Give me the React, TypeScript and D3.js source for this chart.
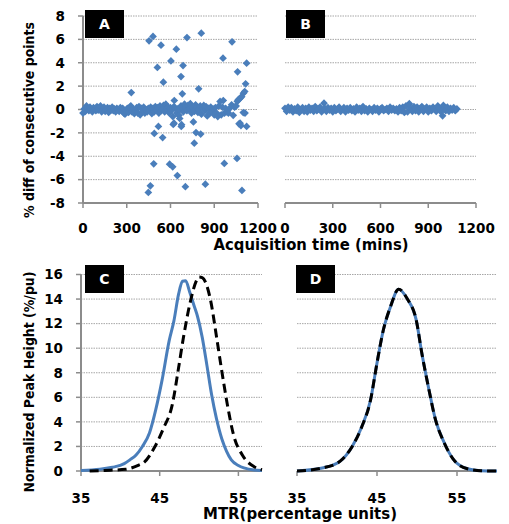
import React, { useRef, useEffect } from 'react';
import * as d3 from 'd3';

// ---- data ----

// panel A: main band of the % differences, [time (mins), % diff]
const aBand: [number, number][] = [
  [0, -0.3], [8, 0.05], [16, -0.15], [24, 0.3], [32, 0.1], [40, -0.1], [48, 0.2], [56, 0.0],
  [64, -0.2], [72, 0.15], [80, 0.05], [88, -0.1], [96, 0.25], [104, -0.05], [112, 0.1], [120, 0.3],
  [128, -0.2], [136, 0.05], [144, 0.2], [152, -0.15], [160, 0.0], [168, 0.15], [176, -0.25], [184, 0.1],
  [192, -0.05], [200, 0.2], [208, -0.1], [216, 0.05], [224, -0.2], [232, 0.1], [240, 0.0], [248, -0.15],
  [256, 0.15], [264, -0.05], [272, 0.1], [280, -0.3], [288, -0.4], [296, -0.1], [304, 0.1], [312, -0.25],
  [320, 0.2], [328, 0.3], [336, -0.2], [344, 0.05], [352, -0.35], [360, -0.1], [368, 0.15], [376, -0.3],
  [384, 0.25], [392, -0.45], [400, 0.1], [408, -0.15], [416, 0.2], [424, -0.3], [432, 0.0], [440, -0.2],
  [448, 0.1], [456, -0.1], [464, 0.2], [472, -0.35], [480, 0.1], [488, -0.2], [496, 0.25], [504, -0.05],
  [512, 0.15], [520, -0.3], [528, 0.3], [536, -0.1], [544, 0.05], [552, 0.35], [560, -0.2], [568, 0.45],
  [576, 0.1], [584, 0.2], [592, -0.3], [600, 0.15], [608, -0.05], [616, -0.6], [624, 0.25], [632, 0.1],
  [642, -0.3], [650, 0.05], [658, -0.5], [665, 0.0], [672, 0.3], [680, 0.15], [688, -0.2], [696, 0.45],
  [704, 0.2], [712, -0.1], [720, 0.35], [728, 0.05], [736, 0.5], [744, -0.3], [750, 0.25], [757, 0.1],
  [764, -0.15], [772, 0.4], [780, 0.2], [788, -0.25], [796, 0.0], [804, 0.3], [812, -0.4], [820, 0.15],
  [828, 0.35], [836, -0.1], [844, 0.25], [852, -0.55], [860, 0.1], [868, -0.3], [876, 0.2], [884, -0.2],
  [892, 0.05], [900, -0.45], [908, 0.15], [916, -0.3], [924, -0.6], [932, 0.3], [940, 0.69], [948, -0.45],
  [956, 0.2], [962, 0.77], [970, -0.3], [978, 0.1], [986, -0.2], [997, -0.3], [1008, 0.12], [1019, 0.4],
  [1030, -0.5], [1040, 0.2], [1050, 0.3], [1058, 0.7], [1065, 0.83], [1072, 0.9], [1080, 1.0], [1088, 1.1],
  [1100, 1.4], [1111, -0.3],
];

// panel A: scattered large jumps
const aOutliers: [number, number][] = [
  [331, 1.45], [453, 5.88], [480, 6.25], [535, 5.5], [510, 3.6], [551, 2.34], [640, 5.16], [603, 4.16],
  [713, 6.16], [686, 3.76], [672, 2.82], [681, 1.34], [811, 6.53], [793, 1.77], [960, 4.39], [1022, 5.79],
  [1060, 3.22], [1122, 3.96], [1115, 2.2], [1109, 1.54], [626, 0.77], [517, -1.45], [489, -2.05],
  [546, -2.4], [485, -4.65], [594, -4.68], [615, -4.9], [647, -5.65], [462, -6.53], [448, -7.1],
  [702, -6.6], [839, -6.39], [969, -4.62], [1056, -4.19], [1090, -6.93], [619, -1.28], [674, -1.45],
  [663, -0.77], [763, -2.88], [757, -1.06], [775, -1.97], [807, -2.1], [1070, -1.23], [1083, -1.37],
  [1122, -1.45], [1099, -0.26], [624, -1.17], [676, -1.3], [1077, -1.17],
];

// panel B
const bPoints: [number, number][] = [
  [0, 0.1], [10, -0.15], [20, 0.2], [30, -0.05], [40, 0.15], [50, -0.2], [60, 0.05], [70, -0.1],
  [80, 0.2], [90, -0.25], [100, 0.0], [110, 0.15], [120, -0.15], [130, 0.1], [140, -0.2], [150, 0.2],
  [160, -0.05], [170, 0.1], [180, -0.15], [190, 0.25], [200, -0.1], [210, 0.05], [220, 0.2], [230, -0.2],
  [245, 0.54], [250, 0.1], [260, -0.15], [270, 0.15], [280, -0.05], [290, 0.1], [300, -0.2], [310, 0.15],
  [320, -0.1], [330, 0.05], [340, 0.2], [350, -0.15], [360, 0.0], [370, 0.15], [380, -0.2], [390, 0.1],
  [400, -0.05], [410, 0.15], [420, -0.1], [430, 0.05], [440, -0.2], [450, 0.2], [460, -0.05], [470, 0.1],
  [480, -0.15], [490, 0.25], [500, -0.1], [510, 0.05], [520, -0.2], [530, 0.1], [540, 0.0], [550, -0.15],
  [560, 0.15], [570, -0.05], [580, 0.1], [590, -0.2], [600, 0.05], [610, 0.15], [620, -0.1], [630, 0.0],
  [640, 0.1], [650, -0.15], [660, 0.2], [670, -0.05], [680, 0.1], [690, -0.1], [700, 0.05], [710, -0.2],
  [720, 0.15], [730, -0.1], [740, 0.2], [750, -0.25], [760, 0.3], [770, -0.2], [781, 0.5], [790, 0.1],
  [800, -0.15], [810, 0.25], [820, -0.1], [830, 0.2], [840, -0.2], [850, 0.1], [860, 0.25], [870, -0.15],
  [880, 0.05], [890, 0.2], [900, -0.2], [910, 0.1], [920, -0.1], [930, 0.2], [940, 0.05], [950, -0.15],
  [960, 0.3], [970, 0.1], [980, -0.2], [990, -0.54], [995, 0.35], [1000, 0.1], [1010, -0.1], [1020, 0.2],
  [1030, -0.15], [1040, 0.1], [1050, -0.05], [1060, 0.15], [1070, -0.1], [1080, 0.05],
];

// panel C: MTR histograms (solid blue, dashed black)
const cSolid: [number, number][] = [
  [35, 0.05], [37.4, 0.15], [39, 0.3], [40.5, 0.6], [41.2, 0.9], [42.0, 1.3], [42.8, 2.0], [43.7, 3.1],
  [44.5, 5.0], [45.3, 7.4], [46.2, 10.6], [46.8, 12.2], [47.4, 14.4], [47.9, 15.45], [48.3, 15.5],
  [48.8, 14.6], [49.4, 13.4], [49.8, 12.6], [50.4, 10.9], [51.0, 8.6], [51.6, 6.2], [52.2, 4.3],
  [52.9, 2.6], [53.5, 1.6], [54.1, 0.9], [55.0, 0.45], [55.7, 0.25], [57.0, 0.08], [58, 0.05],
];
const cDashed: [number, number][] = [
  [36.1, 0], [38, 0.05], [40.7, 0.14], [42.4, 0.5], [42.9, 0.65], [44.4, 2.0], [45.5, 3.5], [46.6, 5.4],
  [47.4, 8.4], [48.0, 10.8], [48.9, 13.8], [49.6, 15.4], [50.0, 15.8], [50.4, 15.75], [51.4, 14.1],
  [52.3, 10.6], [52.9, 8.1], [53.6, 5.4], [54.4, 2.9], [55.5, 1.3], [57.0, 0.35], [58, 0.1],
];

// panel D: the two histograms coincide
const dSolid: [number, number][] = [
  [35, 0], [38.3, 0.26], [40.4, 0.8], [41.9, 2.0], [43.1, 3.6], [44.2, 5.8], [45.0, 8.8], [45.8, 11.5],
  [46.7, 13.4], [47.7, 14.8], [48.8, 14.0], [49.9, 12.3], [50.6, 9.6], [51.5, 6.6], [52.3, 4.2],
  [53.4, 2.3], [54.6, 0.9], [56.3, 0.18], [58, 0.02], [60, 0],
];
const dDashed: [number, number][] = [
  [35, 0], [38.3, 0.26], [40.4, 0.8], [41.9, 2.0], [43.1, 3.6], [44.2, 5.8], [45.0, 8.8], [45.8, 11.5],
  [46.7, 13.4], [47.7, 14.8], [48.8, 14.0], [49.9, 12.3], [50.6, 9.6], [51.5, 6.6], [52.3, 4.2],
  [53.4, 2.3], [54.6, 0.9], [56.3, 0.18], [58, 0.02], [60, 0],
];

const timeTicks = [0, 300, 600, 900, 1200];
const diffTicks = [-8, -6, -4, -2, 0, 2, 4, 6, 8];
const mtrTicks = [35, 45, 55];
const heightTicks = [0, 2, 4, 6, 8, 10, 12, 14, 16];

const BLUE = '#4a7ebb';
const GRID = '#a6a6a6';
const AXIS = '#8c8c8c';
const FONT = '"DejaVu Sans", sans-serif';

function App() {
  const svgRef = useRef<SVGSVGElement>(null);

  useEffect(() => {
    const svg = d3.select(svgRef.current);
    svg.selectAll('*').remove();

    const xA = d3.scaleLinear().domain([0, 1200]).range([83, 258]);
    const xB = d3.scaleLinear().domain([0, 1200]).range([285, 476]);
    const yAB = d3.scaleLinear().domain([-8, 8]).range([203, 16]);
    const xC = d3.scaleLinear().domain([35, 58]).range([81, 262]);
    const xD = d3.scaleLinear().domain([35, 60]).range([297, 497]);
    const yCD = d3.scaleLinear().domain([0, 16]).range([471, 274.5]);

    // one panel frame: grid, axes, tick labels
    function frame(x: any, y: any, xt: number[], yt: number[], showY: boolean, labelY: number) {
      const g = svg.append('g');
      const [x0, x1] = x.range();
      const yMin = y.domain()[0];
      g.selectAll('line.grid')
        .data(yt.filter(v => v !== yMin))
        .join('line')
        .attr('x1', x0).attr('x2', x1)
        .attr('y1', d => y(d)).attr('y2', d => y(d))
        .attr('stroke', GRID).attr('stroke-width', 1).attr('stroke-dasharray', '1.5,1');

      if (showY) {
        g.append('line')
          .attr('x1', x0).attr('x2', x0)
          .attr('y1', y.range()[1]).attr('y2', y.range()[0])
          .attr('stroke', AXIS).attr('stroke-width', 2);
        g.selectAll('line.yt')
          .data(yt)
          .join('line')
          .attr('x1', x0 - 5).attr('x2', x0)
          .attr('y1', d => y(d)).attr('y2', d => y(d))
          .attr('stroke', AXIS).attr('stroke-width', 1.5);
        g.selectAll('text.yl')
          .data(yt)
          .join('text')
          .attr('x', x0 - 18).attr('y', d => y(d))
          .attr('dy', '0.36em')
          .attr('text-anchor', 'end')
          .style('font-family', FONT).style('font-weight', 'bold').style('font-size', '13.5px')
          .text(d => String(d));
      }

      const yb = y(yMin);
      g.append('line')
        .attr('x1', x0).attr('x2', x1)
        .attr('y1', yb).attr('y2', yb)
        .attr('stroke', AXIS).attr('stroke-width', 2);
      g.selectAll('line.xt')
        .data(xt)
        .join('line')
        .attr('x1', d => x(d)).attr('x2', d => x(d))
        .attr('y1', yb).attr('y2', yb + 5)
        .attr('stroke', AXIS).attr('stroke-width', 1.5);
      g.selectAll('text.xl')
        .data(xt)
        .join('text')
        .attr('x', d => x(d)).attr('y', labelY)
        .attr('text-anchor', 'middle')
        .style('font-family', FONT).style('font-weight', 'bold').style('font-size', '13.5px')
        .text(d => String(d));
      return g;
    }

    function badge(x: number, y: number, letter: string) {
      svg.append('rect').attr('x', x).attr('y', y).attr('width', 39).attr('height', 28).attr('fill', '#000');
      svg.append('text')
        .attr('x', x + 19.5).attr('y', y + 19)
        .attr('text-anchor', 'middle').attr('fill', '#fff')
        .style('font-family', FONT).style('font-weight', 'bold').style('font-size', '14px')
        .text(letter);
    }

    const diamond = d3.symbol().type(d3.symbolSquare).size(30);

    function scatter(x: any, y: any, pts: [number, number][]) {
      svg.append('g')
        .selectAll('path')
        .data(pts)
        .join('path')
        .attr('d', diamond)
        .attr('transform', d => `translate(${x(d[0])},${y(d[1])}) rotate(45)`)
        .attr('fill', BLUE);
    }

    function curve(x: any, y: any, pts: [number, number][], dashed: boolean) {
      const line = d3.line<[number, number]>()
        .x(d => x(d[0])).y(d => y(d[1]))
        .curve(d3.curveMonotoneX);
      svg.append('path')
        .datum(pts)
        .attr('d', line)
        .attr('fill', 'none')
        .attr('stroke', dashed ? '#000' : BLUE)
        .attr('stroke-width', 3)
        .attr('stroke-dasharray', dashed ? '9,5' : null);
    }

    // A
    frame(xA, yAB, timeTicks, diffTicks, true, 233);
    scatter(xA, yAB, aBand);
    scatter(xA, yAB, aOutliers);
    badge(85, 10, 'A');

    // B
    frame(xB, yAB, timeTicks, diffTicks, false, 233);
    scatter(xB, yAB, bPoints);
    badge(286, 10, 'B');

    // C
    frame(xC, yCD, mtrTicks, heightTicks, true, 503);
    curve(xC, yCD, cSolid, false);
    curve(xC, yCD, cDashed, true);
    badge(85, 265, 'C');

    // D
    frame(xD, yCD, mtrTicks, heightTicks, false, 503);
    curve(xD, yCD, dSolid, false);
    curve(xD, yCD, dDashed, true);
    badge(296, 265, 'D');

    // axis titles
    const title = (t: string, x: number, y: number, len: number, rot: boolean, size: number) => {
      svg.append('text')
        .attr('transform', rot ? `translate(${x},${y}) rotate(-90)` : `translate(${x},${y})`)
        .attr('text-anchor', 'middle')
        .attr('textLength', len)
        .attr('lengthAdjust', 'spacingAndGlyphs')
        .style('font-family', FONT).style('font-weight', 'bold').style('font-size', size + 'px')
        .text(t);
    };
    title('% diff of consecutive points', 34, 120, 196, true, 14);
    title('Normalized Peak Height (%/pu)', 34, 382, 221, true, 14);
    title('Acquisition time (mins)', 311, 250, 195, false, 15);
    title('MTR(percentage units)', 300, 519, 194, false, 15);
  }, []);

  return (
    <svg
      ref={svgRef}
      width={509}
      height={524}
      style={{ position: 'absolute', left: 0, top: 0, background: '#fff' }}
    />
  );
}

export default App;
